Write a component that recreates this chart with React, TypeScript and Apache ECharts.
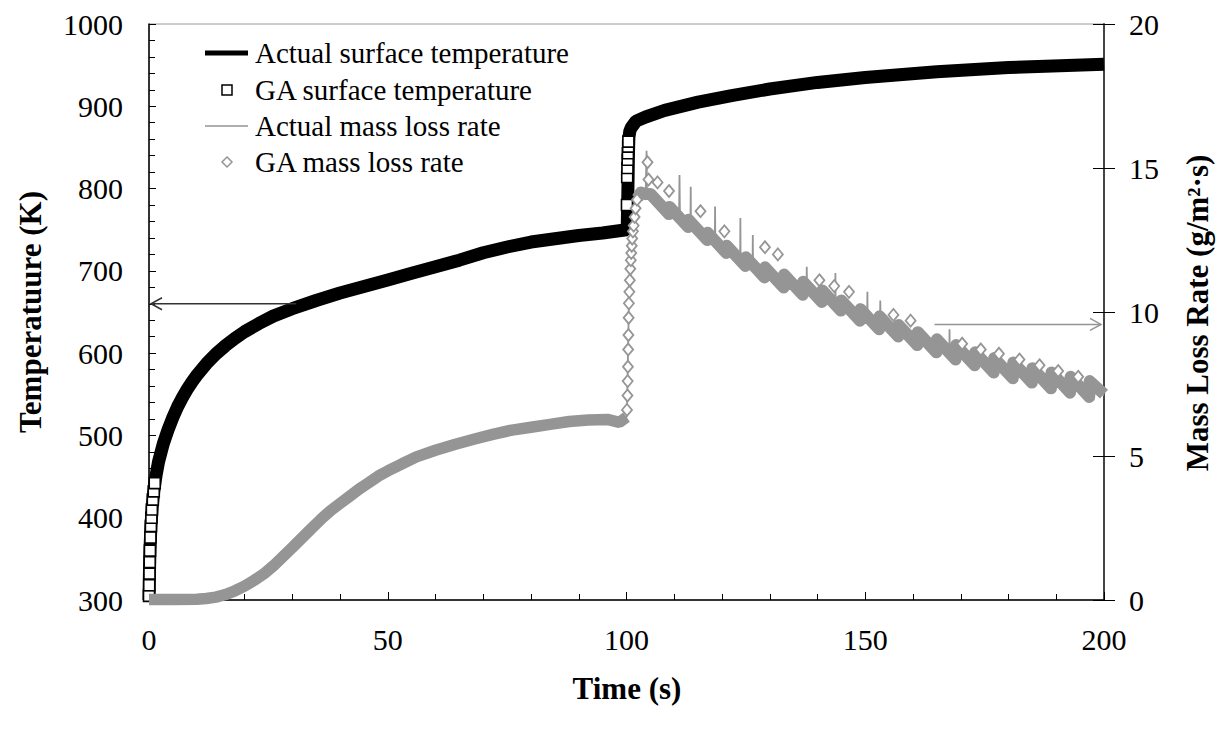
import React, { useEffect, useRef } from "react";
import * as echarts from "echarts";

// ---------- data ----------
// Actual surface temperature (K) vs time (s)
const tempActual: [number, number][] = [
  [0, 300], [0.1, 335], [0.2, 360], [0.4, 390], [0.7, 415], [1, 432], [1.5, 452], [2, 468],
  [3, 490], [4, 507], [5, 522], [6, 535], [7, 546], [8, 556], [9, 565], [10, 573], [12, 587],
  [14, 599], [16, 609], [18, 618], [20, 626], [23, 636], [26, 645], [30, 654], [35, 664],
  [40, 673], [45, 681], [50, 689], [55, 697], [60, 705], [65, 713], [70, 722], [75, 729],
  [80, 735], [85, 739], [90, 743], [95, 746], [100, 750], [100.15, 752], [100.3, 800],
  [100.4, 840], [100.5, 862], [100.7, 870], [101, 874], [102, 882], [104, 887], [108, 895],
  [115, 905], [122, 913], [130, 921], [140, 929], [150, 935], [165, 942], [180, 947], [200, 951],
];

// GA surface temperature: the squares that stand out on the steep parts
const gaTemp: [number, number][] = [
  [0, 305], [0.05, 318], [0.1, 332], [0.15, 346], [0.2, 360], [0.3, 376], [0.4, 390],
  [0.5, 400], [0.6, 410], [0.8, 422], [1.0, 432], [1.2, 442],
  [100.1, 780], [100.15, 814], [100.2, 825], [100.25, 835], [100.3, 843], [100.35, 851], [100.4, 857],
];

// Actual mass loss rate (g/m2 s)
const mlrActual: [number, number][] = [
  [0, 0.02], [10, 0.03], [14, 0.1], [18, 0.33], [22, 0.7], [26, 1.18], [30, 1.82], [34, 2.48],
  [38, 3.1], [42, 3.6], [46, 4.07], [50, 4.48], [56, 4.97], [60, 5.2], [68, 5.58], [76, 5.9],
  [84, 6.1], [92, 6.25], [96, 6.27], [98.5, 6.17], [100, 6.35], [100.1, 6.6], [100.5, 10.3],
  [101, 12.05], [101.5, 13.0], [102, 13.7], [102.5, 14.0], [103, 14.1], [104, 13.9], [104.2, 15.6],
  [104.3, 14.0], [105.0, 14.1], [108.9, 13.4], [109.0, 13.65], [111.0, 13.3], [111.1, 14.76],
  [111.2, 13.28], [112.9, 12.95], [113.0, 13.2], [113.4, 13.1], [113.45, 14.35], [113.5, 13.08],
  [116.9, 12.5], [117.0, 12.75], [118.5, 12.45], [118.55, 13.66], [118.6, 12.42], [120.9, 12.05],
  [121.0, 12.3], [123.8, 11.8], [123.85, 13.26], [123.9, 11.78], [124.9, 11.6], [125.0, 11.9],
  [126.4, 11.65], [126.45, 12.67], [126.5, 11.63], [128.9, 11.2], [129.0, 11.55], [132.9, 10.85],
  [133.0, 11.3], [136.9, 10.6], [137.0, 11.05], [137.7, 10.9], [137.75, 11.57], [137.8, 10.88],
  [140.9, 10.35], [141.0, 10.75], [143.7, 10.25], [143.75, 11.35], [143.8, 10.23], [144.9, 10.05],
  [145.0, 10.4], [148.9, 9.7], [149.0, 10.1], [150.4, 9.85], [150.45, 10.7], [150.5, 9.83],
  [152.9, 9.4], [153.0, 9.85], [153.1, 9.83], [153.15, 10.4], [153.2, 9.8], [156.9, 9.15],
  [157.0, 9.55], [160.9, 8.85], [161.0, 9.3], [164.9, 8.6], [165.0, 9.05], [167.6, 8.6],
  [167.65, 9.4], [167.7, 8.58], [168.9, 8.35], [169.0, 8.85], [172.9, 8.15], [173.0, 8.6],
  [176.9, 7.9], [177.0, 8.4], [180.9, 7.7], [181.0, 8.25], [184.9, 7.55], [185.0, 8.05],
  [188.9, 7.35], [189.0, 7.9], [192.9, 7.2], [193.0, 7.75], [196.9, 7.05], [197.0, 7.6], [200.0, 7.1],
];

// GA mass loss rate: dense band of diamonds before the jump
const gaMlrBandBefore: [number, number][] = [
  [0, 0.02], [5, 0.02], [10, 0.03], [12, 0.05], [14, 0.1], [16, 0.19], [18, 0.32], [20, 0.48],
  [22, 0.68], [24, 0.9], [26, 1.18], [28, 1.5], [30, 1.82], [32, 2.15], [34, 2.48], [36, 2.8],
  [38, 3.1], [40, 3.35], [42, 3.6], [44, 3.85], [46, 4.07], [48, 4.3], [50, 4.48], [53, 4.73],
  [56, 4.97], [60, 5.2], [64, 5.4], [68, 5.58], [72, 5.75], [76, 5.9], [80, 6.0], [84, 6.1],
  [88, 6.2], [92, 6.25], [96, 6.27], [98.5, 6.17], [100, 6.35],
];

// GA mass loss rate: saw-tooth band after the jump
const gaMlrBandAfter: [number, number][] = [
  [102.3, 13.95], [103, 14.15], [104, 14.1], [105.0, 14.1], [108.9, 13.4], [109.0, 13.65],
  [112.9, 12.95], [113.0, 13.2], [116.9, 12.5], [117.0, 12.75], [120.9, 12.05], [121.0, 12.3],
  [124.9, 11.6], [125.0, 11.9], [128.9, 11.2], [129.0, 11.55], [132.9, 10.85], [133.0, 11.3],
  [136.9, 10.6], [137.0, 11.05], [140.9, 10.35], [141.0, 10.75], [144.9, 10.05], [145.0, 10.4],
  [148.9, 9.7], [149.0, 10.1], [152.9, 9.4], [153.0, 9.85], [156.9, 9.15], [157.0, 9.55],
  [160.9, 8.85], [161.0, 9.3], [164.9, 8.6], [165.0, 9.05], [168.9, 8.35], [169.0, 8.85],
  [172.9, 8.15], [173.0, 8.6], [176.9, 7.9], [177.0, 8.4], [180.9, 7.7], [181.0, 8.25],
  [184.9, 7.55], [185.0, 8.05], [188.9, 7.35], [189.0, 7.9], [192.9, 7.2], [193.0, 7.75],
  [196.9, 7.05], [197.0, 7.6], [200.0, 7.15],
];

// GA mass loss rate: single diamonds that stand out (jump and tooth tops)
const gaMlrMarks: [number, number][] = [
  [100.1, 6.6], [100.2, 7.1], [100.25, 7.6], [100.3, 8.1], [100.35, 8.7], [100.4, 9.2],
  [100.45, 9.8], [100.5, 10.3], [100.6, 10.7], [100.7, 11.1], [100.8, 11.5], [100.9, 11.8],
  [101.0, 12.05], [101.1, 12.3], [101.2, 12.55], [101.35, 12.8], [101.5, 13.0], [101.7, 13.3],
  [101.9, 13.6], [102.2, 13.9],
  [104.4, 15.2], [104.6, 14.6], [106.5, 14.5], [108.9, 14.2], [115.5, 13.5], [120.5, 12.8],
  [129, 12.25], [131.7, 12.0], [140.4, 11.1], [143.5, 10.9], [146.6, 10.7], [155.9, 9.9],
  [159.5, 9.7], [170.3, 8.9], [174.2, 8.7], [178, 8.55], [182.3, 8.35], [186.5, 8.15],
  [190.4, 7.95], [194.6, 7.75],
];

// annotation arrows: [t start, t end, value]
const arrowTemp = { t0: 0, t1: 30.8, value: 660 };
const arrowMlr = { t0: 164.5, t1: 200, value: 9.57 };

const legendNames = [
  "Actual surface temperature",
  "GA surface temperature",
  "Actual mass loss rate",
  "GA mass loss rate",
];

const FONT = "Liberation Serif";
const GRAY = "#959595";

export default function App() {
  const ref = useRef<HTMLDivElement>(null);

  useEffect(() => {
    if (!ref.current) return;
    const chart = echarts.init(ref.current, undefined, { renderer: "svg" });

    const labelStyle = { color: "#000", fontFamily: FONT, fontSize: 30 };
    const plain = (v: number) => String(v);

    const option: any = {
      animation: false,
      backgroundColor: "#fff",
      textStyle: { fontFamily: FONT },
      grid: {
        left: 149,
        right: 124,
        top: 24,
        bottom: 129,
        show: true,
        borderColor: "#9a9a9a",
        borderWidth: 1,
        backgroundColor: "transparent",
      },
      xAxis: {
        type: "value",
        min: 0,
        max: 200,
        interval: 50,
        axisLine: { show: true, lineStyle: { color: "#000", width: 1.5 } },
        axisTick: { show: true, inside: true, length: 8, lineStyle: { color: "#000" } },
        minorTick: { show: true, splitNumber: 5, length: 6, lineStyle: { color: "#000" } },
        splitLine: { show: false },
        axisLabel: { ...labelStyle, margin: 24, formatter: plain },
      },
      yAxis: [
        {
          type: "value",
          position: "left",
          min: 300,
          max: 1000,
          interval: 100,
          axisLine: { show: true, lineStyle: { color: "#000", width: 1.5 } },
          axisTick: { show: true, inside: true, length: 7, lineStyle: { color: "#000" } },
          minorTick: { show: true, splitNumber: 5, length: 6, lineStyle: { color: "#000" } },
          splitLine: { show: false },
          axisLabel: { ...labelStyle, margin: 26, formatter: plain },
        },
        {
          type: "value",
          position: "right",
          min: 0,
          max: 20,
          interval: 5,
          axisLine: { show: true, lineStyle: { color: "#444", width: 2 } },
          axisTick: { show: true, inside: false, length: 11, lineStyle: { color: "#000" } },
          splitLine: { show: false },
          axisLabel: { ...labelStyle, margin: 25, formatter: plain },
        },
        {
          type: "value",
          position: "right",
          min: 0,
          max: 20,
          interval: 5,
          axisLine: { show: false },
          axisTick: { show: true, inside: true, length: 11, lineStyle: { color: "#000" } },
          splitLine: { show: false },
          axisLabel: { show: false },
        },
      ],
      series: [
        {
          name: legendNames[0],
          type: "line",
          data: tempActual,
          yAxisIndex: 0,
          symbol: "none",
          clip: false,
          lineStyle: { color: "#000", width: 13 },
          z: 2,
        },
        {
          name: legendNames[1],
          type: "scatter",
          data: gaTemp,
          yAxisIndex: 0,
          symbol: "rect",
          symbolSize: 11,
          clip: false,
          itemStyle: { color: "#fff", borderColor: "#000", borderWidth: 1.6, opacity: 1 },
          z: 3,
        },
        {
          name: legendNames[3],
          type: "line",
          data: gaMlrBandBefore,
          yAxisIndex: 1,
          symbol: "none",
          clip: false,
          lineStyle: { color: GRAY, width: 11.5 },
          z: 4,
        },
        {
          name: legendNames[3] + " ",
          type: "line",
          data: gaMlrBandAfter,
          yAxisIndex: 1,
          symbol: "none",
          clip: false,
          lineStyle: { color: GRAY, width: 12, join: "round" },
          z: 4,
        },
        {
          name: legendNames[2],
          type: "line",
          data: mlrActual,
          yAxisIndex: 1,
          symbol: "none",
          clip: false,
          lineStyle: { color: GRAY, width: 1.8 },
          z: 5,
        },
        {
          name: legendNames[3] + "  ",
          type: "scatter",
          data: gaMlrMarks,
          yAxisIndex: 1,
          symbol: "diamond",
          symbolSize: [10, 12],
          clip: false,
          itemStyle: { color: "#fff", borderColor: GRAY, borderWidth: 1.8, opacity: 1 },
          z: 6,
        },
      ],
    };
    chart.setOption(option);

    // arrows placed through the axes' scales
    const pL0 = chart.convertToPixel({ xAxisIndex: 0, yAxisIndex: 0 }, [arrowTemp.t0, arrowTemp.value]);
    const pL1 = chart.convertToPixel({ xAxisIndex: 0, yAxisIndex: 0 }, [arrowTemp.t1, arrowTemp.value]);
    const pR0 = chart.convertToPixel({ xAxisIndex: 0, yAxisIndex: 1 }, [arrowMlr.t0, arrowMlr.value]);
    const pR1 = chart.convertToPixel({ xAxisIndex: 0, yAxisIndex: 1 }, [arrowMlr.t1, arrowMlr.value]);
    const lTipX = pL0[0] + 2;
    const rTipX = pR1[0] - 3;

    const legendX = 205;
    const legendTextX = 255;
    const rowY = [53, 90, 126, 162];

    const txt = (
      text: string,
      x: number,
      y: number,
      size: number,
      weight: string,
      rotation = 0,
      align = "left"
    ) => ({
      type: "text",
      x,
      y,
      rotation,
      z: 50,
      style: {
        text,
        fontFamily: FONT,
        fontSize: size,
        fontWeight: weight,
        fill: "#000",
        align,
        textAlign: align,
        verticalAlign: "middle",
        textVerticalAlign: "middle",
      },
    });

    chart.setOption({
      graphic: [
        // arrows
        {
          type: "line",
          z: 40,
          shape: { x1: lTipX, y1: pL0[1], x2: pL1[0], y2: pL1[1] },
          style: { stroke: "#333", lineWidth: 1.5 },
        },
        {
          type: "polyline",
          z: 40,
          shape: { points: [[lTipX + 11, pL0[1] - 6], [lTipX, pL0[1]], [lTipX + 11, pL0[1] + 6]] },
          style: { stroke: "#333", lineWidth: 1.5, fill: null },
        },
        {
          type: "line",
          z: 40,
          shape: { x1: pR0[0], y1: pR0[1], x2: rTipX, y2: pR1[1] },
          style: { stroke: GRAY, lineWidth: 1.5 },
        },
        {
          type: "polyline",
          z: 40,
          shape: { points: [[rTipX - 11, pR1[1] - 6], [rTipX, pR1[1]], [rTipX - 11, pR1[1] + 6]] },
          style: { stroke: GRAY, lineWidth: 1.5, fill: null },
        },
        // legend
        {
          type: "line",
          z: 50,
          shape: { x1: legendX, y1: rowY[0], x2: legendX + 43, y2: rowY[0] },
          style: { stroke: "#000", lineWidth: 5 },
        },
        {
          type: "rect",
          z: 50,
          shape: { x: 222, y: rowY[1] - 5, width: 10, height: 10 },
          style: { stroke: "#000", lineWidth: 1.5, fill: "#fff" },
        },
        {
          type: "line",
          z: 50,
          shape: { x1: legendX, y1: rowY[2], x2: legendX + 43, y2: rowY[2] },
          style: { stroke: GRAY, lineWidth: 1.5 },
        },
        {
          type: "polygon",
          z: 50,
          shape: { points: [[227, rowY[3] - 5], [232, rowY[3]], [227, rowY[3] + 5], [222, rowY[3]]] },
          style: { stroke: GRAY, lineWidth: 1.5, fill: "#fff" },
        },
        txt(legendNames[0], legendTextX, rowY[0], 29, "normal"),
        txt(legendNames[1], legendTextX, rowY[1], 29, "normal"),
        txt(legendNames[2], legendTextX, rowY[2], 29, "normal"),
        txt(legendNames[3], legendTextX, rowY[3], 29, "normal"),
        // axis titles
        txt("Temperatuure (K)", 30, 312, 31, "bold", Math.PI / 2, "center"),
        txt("Time (s)", 627, 688, 31, "bold", 0, "center"),
        txt("Mass Loss Rate (g/m²·s)", 1197, 313, 31, "bold", Math.PI / 2, "center"),
      ],
    });

    return () => chart.dispose();
  }, []);

  return (
    <div
      ref={ref}
      style={{ position: "fixed", left: 0, top: 0, width: 1228, height: 729, background: "#fff" }}
    />
  );
}
